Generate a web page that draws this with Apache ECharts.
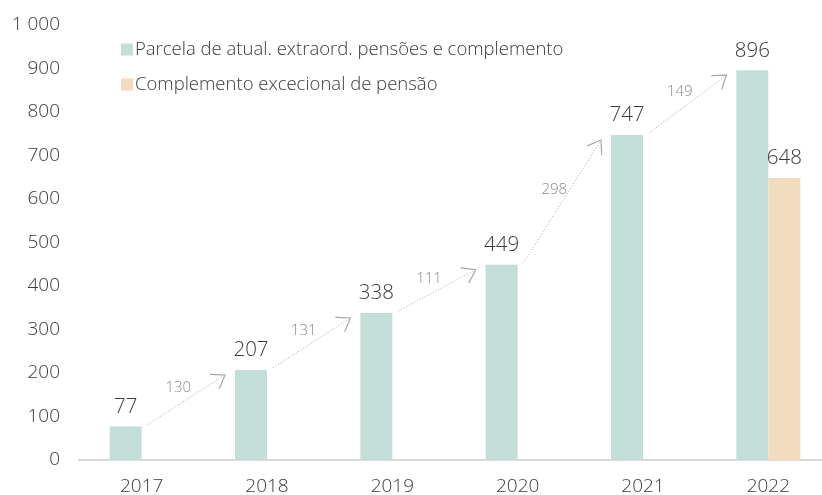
<!DOCTYPE html>
<html>
<head>
<meta charset="utf-8">
<script src="https://cdn.jsdelivr.net/npm/echarts@6/dist/echarts.min.js"></script>
<style>
  html, body { margin: 0; padding: 0; background: #fff; }
  #chart { width: 822px; height: 495px; }
</style>
</head>
<body>
<div id="chart"></div>
<script>
const categories = ['2017', '2018', '2019', '2020', '2021', '2022'];
const parcela = [77, 207, 338, 449, 747, 896];
const complemento = [null, null, null, null, null, 648];
const increments = [130, 131, 111, 298, 149];
const seriesNames = ['Parcela de atual. extraord. pensões e complemento', 'Complemento excecional de pensão'];

const FONT = '"Open Sans", sans-serif';
const BAR_W = 32;
const TXT = '#3a3a3a';

const arrowData = increments.map((d, i) => [i, parcela[i], parcela[i + 1], d]);

const chart = echarts.init(document.getElementById('chart'));
chart.setOption({
  animation: false,
  textStyle: { fontFamily: FONT },
  grid: { left: 79, width: 752, top: 25, bottom: 35, outerBoundsMode: 'none', containLabel: false },
  legend: {
    orient: 'vertical',
    left: 116,
    top: 34,
    icon: 'rect',
    itemWidth: 12,
    itemHeight: 12,
    itemGap: 14,
    textStyle: { fontFamily: FONT, fontSize: 18.5, color: TXT, fontWeight: 300, lineHeight: 21, padding: [0, 0, 0, -3] },
    data: seriesNames
  },
  xAxis: {
    type: 'category',
    data: categories,
    axisLine: { lineStyle: { color: '#d9d9d9', width: 2 } },
    axisTick: { show: false },
    axisLabel: { fontFamily: FONT, fontSize: 19, color: TXT, fontWeight: 300, margin: 17 }
  },
  yAxis: {
    type: 'value',
    min: 0,
    max: 1000,
    interval: 100,
    splitLine: { show: false },
    axisLine: { show: false },
    axisTick: { show: false },
    axisLabel: {
      fontFamily: FONT, fontSize: 19, color: TXT, fontWeight: 300, margin: 19,
      formatter: v => String(v).replace(/\B(?=(\d{3})+(?!\d))/g, ' ')
    }
  },
  series: [
    {
      name: seriesNames[0],
      type: 'bar',
      data: parcela,
      barWidth: BAR_W,
      barGap: '0%',
      itemStyle: { color: '#c3ded8' },
      label: { show: true, position: 'top', distance: 9, fontFamily: FONT, fontSize: 20.5, color: TXT, fontWeight: 300 }
    },
    {
      name: seriesNames[1],
      type: 'bar',
      data: complemento,
      barWidth: BAR_W,
      barGap: '0%',
      itemStyle: { color: '#f3dbbe' },
      label: { show: true, position: 'top', distance: 9, fontFamily: FONT, fontSize: 20.5, color: TXT, fontWeight: 300 }
    },
    {
      type: 'custom',
      coordinateSystem: 'cartesian2d',
      clip: false,
      z: 5,
      silent: true,
      encode: { x: 0, y: 1 },
      data: arrowData,
      renderItem: function (params, api) {
        const i = api.value(0);
        const a = api.coord([i, api.value(1)]);
        const b = api.coord([i + 1, api.value(2)]);
        const x1 = a[0] + 6, y1 = a[1] - 2;
        const x2 = b[0] - BAR_W - 10, y2 = b[1] + 5;
        const ang = Math.atan2(y1 - y2, x1 - x2);
        const L = 15, h = 35 * Math.PI / 180;
        const w1 = [x2 + L * Math.cos(ang + h), y2 + L * Math.sin(ang + h)];
        const w2 = [x2 + L * Math.cos(ang - h), y2 + L * Math.sin(ang - h)];
        const mx = (x1 + x2) / 2, my = (y1 + y2) / 2;
        return {
          type: 'group',
          children: [
            { type: 'line', shape: { x1: x1, y1: y1, x2: x2, y2: y2 },
              style: { stroke: '#a6a6a6', lineWidth: 1, lineDash: [1, 2] } },
            { type: 'polyline', shape: { points: [w1, [x2, y2], w2] },
              style: { stroke: '#a6a6a6', lineWidth: 1.2, fill: null } },
            { type: 'text', x: mx - 8, y: my - 12,
              style: { text: String(api.value(3)), fontFamily: FONT, fontSize: 15, fill: '#8c8c8c',
                       fontWeight: 300, align: 'center', verticalAlign: 'middle' } }
          ]
        };
      }
    }
  ]
});
</script>
</body>
</html>
